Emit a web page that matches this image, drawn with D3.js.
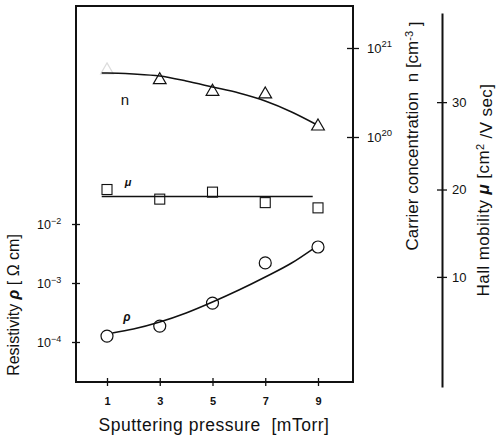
<!DOCTYPE html>
<html>
<head>
<meta charset="utf-8">
<script src="https://cdn.jsdelivr.net/npm/d3@7"></script>
<style>
  body { margin: 0; background: #fff; }
  text { font-family: "Liberation Sans", Arial, sans-serif; fill: #111; }
</style>
</head>
<body>
<script>
// data
let pressures = [1, 3, 5, 7, 9]
let logN = [20.75, 20.64, 20.51, 20.48, 20.12]        // carrier concentration, log10 cm^-3
let mobility = [20.0, 18.9, 19.7, 18.5, 17.9]         // Hall mobility, cm2/V sec
let logRho = [-3.90, -3.73, -3.34, -2.66, -2.39]      // resistivity, log10 ohm cm

// hand-drawn fit curves
let nFitX = [0.8, 1, 2, 3, 4, 5, 6, 7, 8, 8.9]
let nFitY = [20.719, 20.719, 20.708, 20.685, 20.629, 20.562, 20.494, 20.404, 20.281, 20.146]
let muFitX = [0.8, 8.8]
let muFitY = [19.2, 19.2]
let rhoFitX = [1.2, 2, 3, 4, 5, 6, 7, 8, 8.8]
let rhoFitY = [-3.847, -3.780, -3.661, -3.508, -3.322, -3.119, -2.898, -2.661, -2.424]

let xTicks = [1, 3, 5, 7, 9]
let rhoTicks = [-2, -3, -4]
let nTicks = [21, 20]
let muTicks = [10, 20, 30]

let width = 496
let height = 438
let frame = {left: 76, right: 353, top: 6, bottom: 382}

let svg = d3.select("body")
            .append("svg")
            .attr("width", width)
            .attr("height", height)

let xScale = d3.scaleLinear().domain([1, 9]).range([107, 318])
let rhoScale = d3.scaleLinear().domain([-4, -2]).range([342, 224])
let nScale = d3.scaleLinear().domain([20, 21]).range([137, 48])
let muScale = d3.scaleLinear().domain([-2.6, 40.2]).range([387, 13])

// frame
svg.append("rect")
    .attr("x", frame.left)
    .attr("y", frame.top)
    .attr("width", frame.right - frame.left)
    .attr("height", frame.bottom - frame.top)
    .attr("fill", "none")
    .attr("stroke", "#111")
    .attr("stroke-width", 2)

let crossTicks = (g, len) => {
    g.select(".domain").remove()
    g.selectAll(".tick line").attr("x1", -len).attr("x2", len).attr("stroke", "#111").attr("stroke-width", 1.3)
}

// bottom axis
let xAxis = svg.append("g")
    .attr("transform", "translate(0," + frame.bottom + ")")
    .call(d3.axisBottom(xScale).tickValues(xTicks).tickSize(0).tickPadding(15))
xAxis.select(".domain").remove()
xAxis.selectAll(".tick line").attr("y1", -4).attr("y2", 4).attr("stroke", "#111").attr("stroke-width", 1.3)
xAxis.selectAll(".tick text")
    .style("font-family", "'Liberation Sans', Arial, sans-serif")
    .style("font-size", "11px")
    .style("font-weight", "bold")
    .attr("fill", "#111")

// left (resistivity) axis
let rhoAxis = svg.append("g")
    .attr("transform", "translate(" + frame.left + ",0)")
    .call(d3.axisLeft(rhoScale).tickValues(rhoTicks).tickSize(0).tickFormat(""))
crossTicks(rhoAxis, 4)
rhoAxis.selectAll(".tick").append("text")
    .attr("x", -39)
    .attr("dy", "0.35em")
    .attr("text-anchor", "start")
    .style("font-size", "12.5px")
    .attr("fill", "#111")
    .each(function(d) {
        let t = d3.select(this)
        t.append("tspan").text("10")
        t.append("tspan").attr("dy", "-0.5em").style("font-size", "9px").text("−" + Math.abs(d))
    })

// right frame (carrier concentration) axis
let nAxis = svg.append("g")
    .attr("transform", "translate(" + frame.right + ",0)")
    .call(d3.axisRight(nScale).tickValues(nTicks).tickSize(0).tickFormat(""))
crossTicks(nAxis, 6)
nAxis.selectAll(".tick").append("text")
    .attr("x", 14)
    .attr("dy", "0.35em")
    .attr("text-anchor", "start")
    .style("font-size", "13px")
    .attr("fill", "#111")
    .each(function(d) {
        let t = d3.select(this)
        t.append("tspan").text("10")
        t.append("tspan").attr("dy", "-0.6em").style("font-size", "9.5px").text(d)
    })

// free-standing Hall mobility axis
let muAxis = svg.append("g")
    .attr("transform", "translate(442,0)")
    .call(d3.axisRight(muScale).tickValues(muTicks).tickSize(0).tickSizeOuter(0).tickPadding(10))
muAxis.select(".domain").attr("stroke", "#111").attr("stroke-width", 2)
muAxis.selectAll(".tick line").attr("x1", -5).attr("x2", 5).attr("stroke", "#111").attr("stroke-width", 1.3)
muAxis.selectAll(".tick text")
    .style("font-family", "'Liberation Sans', Arial, sans-serif")
    .style("font-size", "13px")
    .attr("fill", "#111")

// fit curves
let line = d3.line().curve(d3.curveMonotoneX)

let drawFit = (xs, ys, yScale) => {
    svg.append("path")
        .attr("d", line(xs.map((x, i) => [xScale(x), yScale(ys[i])])))
        .attr("fill", "none")
        .attr("stroke", "#111")
        .attr("stroke-width", 1.5)
}
drawFit(nFitX, nFitY, nScale)
drawFit(muFitX, muFitY, muScale)
drawFit(rhoFitX, rhoFitY, rhoScale)

// markers
svg.append("g").selectAll("path")
    .data(pressures)
    .enter()
    .append("path")
    .attr("d", d3.symbol().type(d3.symbolTriangle).size(70))
    .attr("transform", (d, i) => "translate(" + xScale(d) + "," + nScale(logN[i]) + ")")
    .attr("fill", "none")
    .attr("stroke", "#111")
    .attr("stroke-width", 1.2)
    .attr("opacity", (d, i) => i == 0 ? 0.15 : 1)

svg.append("g").selectAll("rect")
    .data(pressures)
    .enter()
    .append("rect")
    .attr("x", d => xScale(d) - 5)
    .attr("y", (d, i) => muScale(mobility[i]) - 5)
    .attr("width", 10)
    .attr("height", 10)
    .attr("fill", "none")
    .attr("stroke", "#111")
    .attr("stroke-width", 1.1)

svg.append("g").selectAll("circle")
    .data(pressures)
    .enter()
    .append("circle")
    .attr("cx", d => xScale(d))
    .attr("cy", (d, i) => rhoScale(logRho[i]))
    .attr("r", 6)
    .attr("fill", "none")
    .attr("stroke", "#111")
    .attr("stroke-width", 1.2)

// curve labels
svg.append("text").attr("x", 125).attr("y", 105).attr("text-anchor", "middle")
    .style("font-size", "15px").text("n")
svg.append("text").attr("x", 128).attr("y", 186).attr("text-anchor", "middle")
    .style("font-size", "11px").style("font-weight", "bold").style("font-style", "italic").text("μ")
svg.append("text").attr("x", 127).attr("y", 321).attr("text-anchor", "middle")
    .style("font-size", "12px").style("font-weight", "bold").style("font-style", "italic").text("ρ")

// axis titles
svg.append("text")
    .attr("x", 214)
    .attr("y", 431)
    .attr("text-anchor", "middle")
    .style("font-size", "17.5px")
    .style("letter-spacing", "0.5px")
    .attr("xml:space", "preserve")
    .text("Sputtering pressure  [mTorr]")

let rhoTitle = svg.append("text")
    .attr("transform", "translate(19,305) rotate(-90)")
    .attr("text-anchor", "middle")
    .style("font-size", "16px")
rhoTitle.append("tspan").text("Resistivity ")
rhoTitle.append("tspan").style("font-style", "italic").style("font-weight", "bold").text("ρ")
rhoTitle.append("tspan").text(" [ Ω cm]")

let nTitle = svg.append("text")
    .attr("transform", "translate(418,136) rotate(-90)")
    .attr("text-anchor", "middle")
    .style("font-size", "17px")
    .attr("xml:space", "preserve")
nTitle.append("tspan").text("Carrier concentration  n [cm")
nTitle.append("tspan").attr("dy", "-0.5em").style("font-size", "11px").text("-3")
nTitle.append("tspan").attr("dy", "0.5em").text(" ]")

let muTitle = svg.append("text")
    .attr("transform", "translate(489,190) rotate(-90)")
    .attr("text-anchor", "middle")
    .style("font-size", "17px")
    .style("letter-spacing", "0.4px")
muTitle.append("tspan").text("Hall mobility ")
muTitle.append("tspan").style("font-style", "italic").style("font-weight", "bold").text("μ")
muTitle.append("tspan").text(" [cm")
muTitle.append("tspan").attr("dy", "-0.5em").style("font-size", "11px").text("2")
muTitle.append("tspan").attr("dy", "0.5em").text(" /V sec]")
</script>
</body>
</html>
